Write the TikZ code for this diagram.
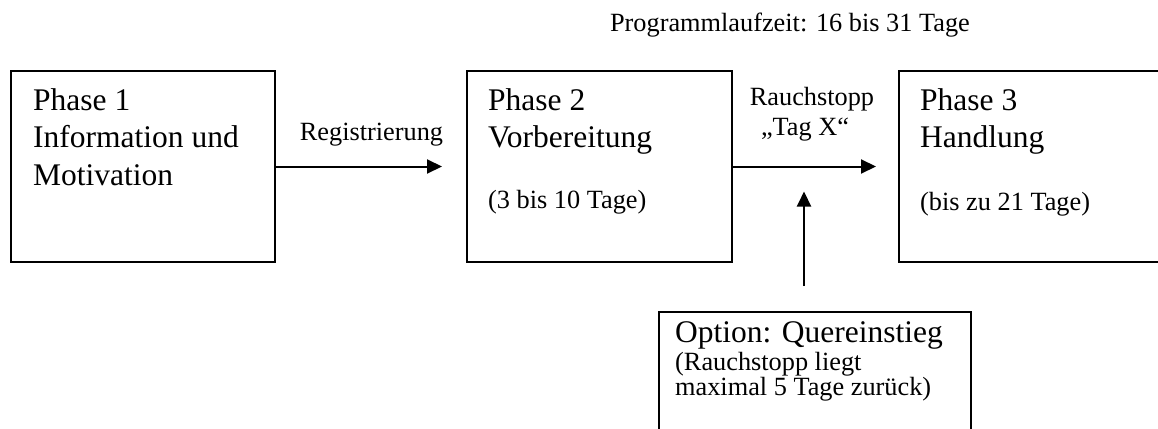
\documentclass[tikz,border=0pt]{standalone}
\usepackage{fontspec}
\setmainfont{Liberation Serif}
\usetikzlibrary{arrows.meta}
\begin{document}
\begin{tikzpicture}[x=1pt,y=-1pt,
  box/.style={draw,line width=2pt,inner sep=0pt,minimum width=#1},
  big/.style={inner sep=0pt,anchor=base west,font=\fontsize{31.5}{37.5}\selectfont},
  small/.style={inner sep=0pt,font=\fontsize{26.3}{30}\selectfont},
  arr/.style={line width=2pt,-{Triangle[length=15pt,width=14pt]}}]
\useasboundingbox (0,0) rectangle (1158,428);
\clip (0,0) rectangle (1158,428);
\fill[white] (0,0) rectangle (1158,428);

% phase boxes
\node[box=264pt,minimum height=191pt] (p1) at (143,166.5) {};
\node[box=265pt,minimum height=191pt] (p2) at (599.5,166.5) {};
\node[box=276pt,minimum height=191pt] (p3) at (1037,166.5) {};
\node[box=312pt,minimum height=128pt] (opt) at (815,376) {};

% texts of the boxes
\node[big] (p1a) at (33,110) {Phase 1};
\node[big] (p1b) at (33,147) {Information und};
\node[big] (p1c) at (33,185) {Motivation};

\node[big] (p2a) at (488,110) {Phase 2};
\node[big] (p2b) at (488,147) {Vorbereitung};
\node[small,anchor=base west] (p2c) at (488,208) {(3 bis 10 Tage)};

\node[big] (p3a) at (920,110) {Phase 3};
\node[big] (p3b) at (920,147) {Handlung};
\node[small,anchor=base west] (p3c) at (920,210) {(bis zu 21 Tage)};

\node[big] (opta) at (675,342) {Option: Quereinstieg};
\node[small,anchor=base west] (optb) at (675,370) {(Rauchstopp liegt};
\node[small,anchor=base west] (optc) at (675,395) {maximal 5 Tage zurück)};

% labels
\node[small,anchor=base east] (total) at (970,32) {Programmlaufzeit: 16 bis 31 Tage};
\node[small,anchor=base] (reg) at (371.5,140) {Registrierung};
\node[small,anchor=base] (rs) at (812,105) {Rauchstopp};
\node[small,anchor=base] (tagx) at (805,135) {„Tag X“};

% connectors
\draw[arr,shorten >=24pt] (p1.east) -- (p2.west);
\draw[arr,shorten >=22pt] (p2.east) -- (p3.west);
\coordinate (hit) at (804,166.5);
\draw[arr,shorten <=25pt,shorten >=25pt] (opt.north -| hit) -- (hit);
\end{tikzpicture}
\end{document}
